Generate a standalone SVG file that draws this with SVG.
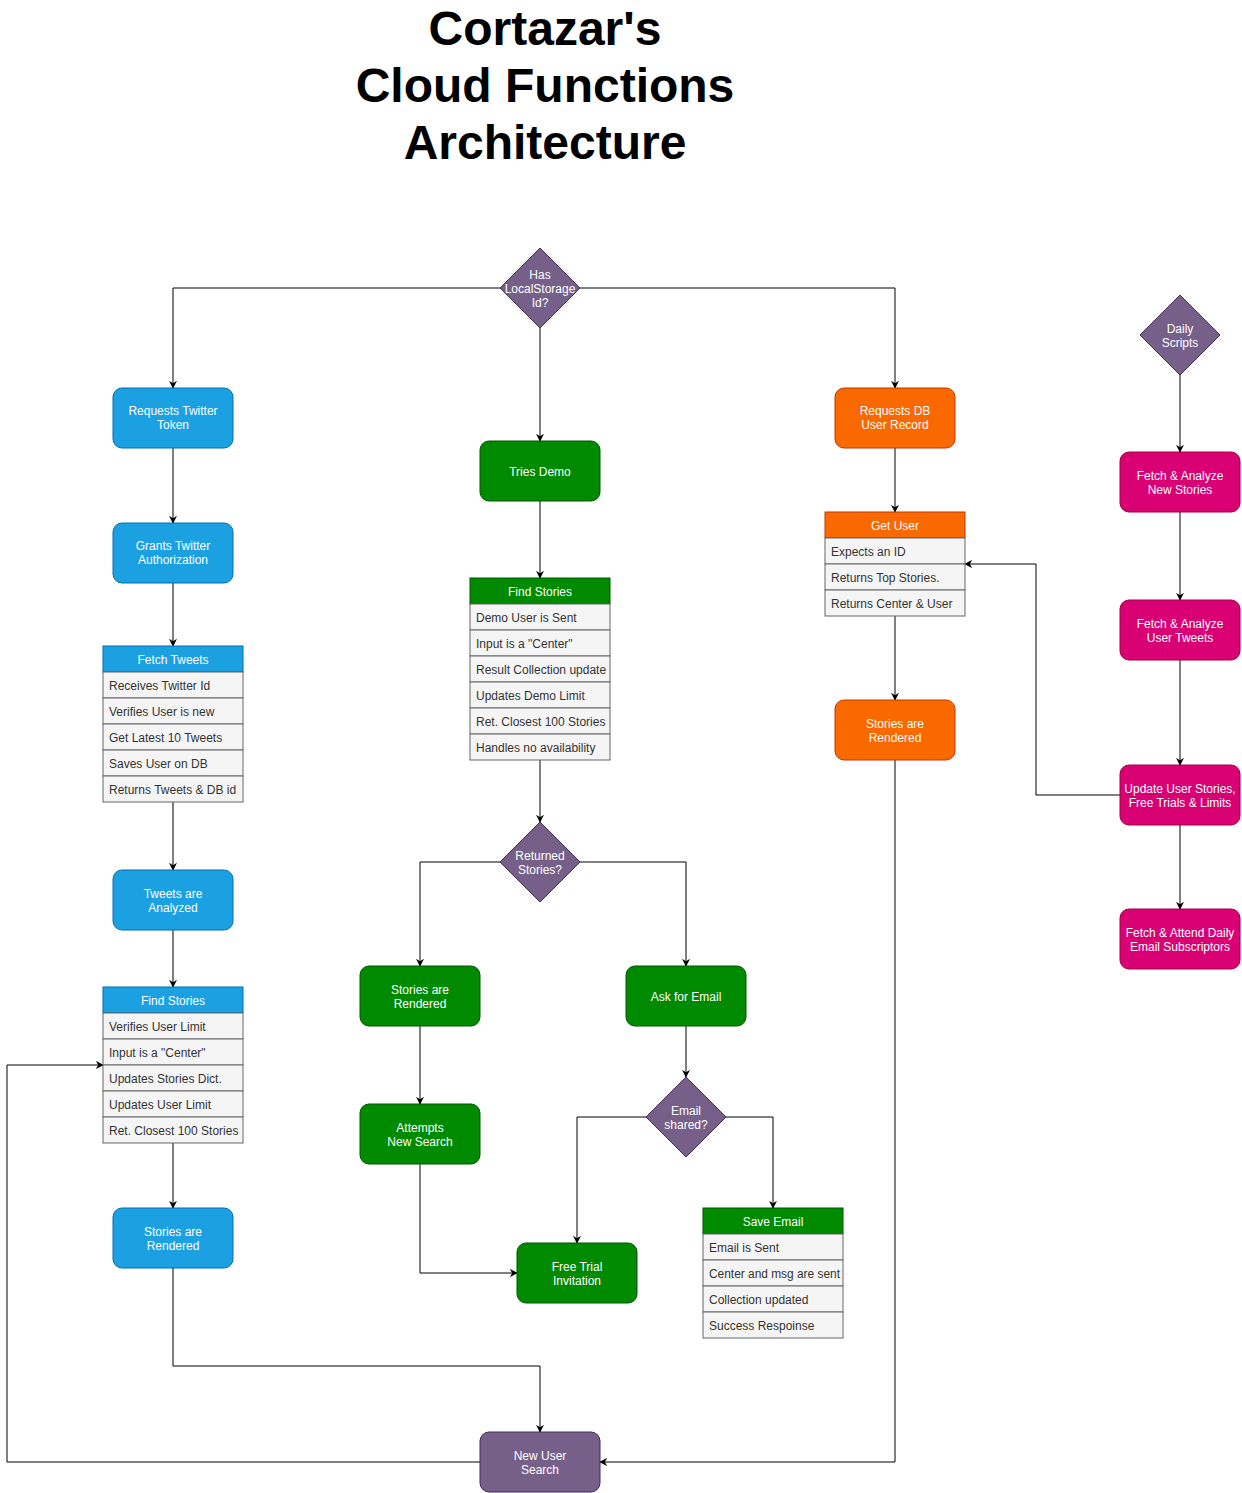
<svg xmlns="http://www.w3.org/2000/svg" width="1242" height="1493" viewBox="0 0 1242 1493">
<defs>
<marker id="arr" viewBox="0 0 10 10" refX="9" refY="5" markerWidth="8" markerHeight="8" markerUnits="userSpaceOnUse" orient="auto">
<path d="M0,0 L10,5 L0,10 L3,5 Z" fill="#000"/>
</marker>
<style>
text{font-family:"Liberation Sans",Arial,sans-serif;font-size:12px}
.t{fill:#fff;text-anchor:middle}
.r{fill:#333}
.title{font-size:48px;font-weight:bold;fill:#000;text-anchor:middle}
.blue{fill:#1ba1e2;stroke:#006eaf}
.green{fill:#008a00;stroke:#005700}
.orange{fill:#fa6800;stroke:#c73500}
.mag{fill:#d80073;stroke:#a50040}
.pur{fill:#76608a;stroke:#432d57}
.row{fill:#f5f5f5;stroke:#666}
.c{fill:none;stroke:#000;stroke-width:1;marker-end:url(#arr)}
.cn{fill:none;stroke:#000;stroke-width:1}
</style>
</defs>
<rect width="1242" height="1493" fill="#fff"/>
<g id="title">
<text class="title" x="545" y="45">Cortazar's</text>
<text class="title" x="545" y="102">Cloud Functions</text>
<text class="title" x="545" y="159">Architecture</text>
</g>
<g id="connectors">
<path class="c" d="M500,288 H173 V388"/>
<path class="c" d="M580,288 H895 V388"/>
<path class="c" d="M540,328 V441"/>
<path class="c" d="M173,448 V523"/>
<path class="c" d="M173,583 V646"/>
<path class="c" d="M173,802 V870"/>
<path class="c" d="M173,930 V987"/>
<path class="c" d="M173,1143 V1208"/>
<path class="c" d="M173,1268 V1366 H540 V1432"/>
<path class="c" d="M480,1462 H7 V1065 H103"/>
<path class="c" d="M540,501 V578"/>
<path class="c" d="M540,760 V822"/>
<path class="c" d="M500,862 H420 V966"/>
<path class="c" d="M580,862 H686 V966"/>
<path class="c" d="M420,1026 V1104"/>
<path class="c" d="M420,1164 V1273 H517"/>
<path class="c" d="M686,1026 V1077"/>
<path class="c" d="M646,1117 H577 V1243"/>
<path class="c" d="M726,1117 H773 V1208"/>
<path class="c" d="M895,448 V512"/>
<path class="c" d="M895,616 V700"/>
<path class="c" d="M895,760 V1462 H600"/>
<path class="c" d="M1180,375 V452"/>
<path class="c" d="M1180,512 V600"/>
<path class="c" d="M1180,660 V765"/>
<path class="c" d="M1180,825 V909"/>
<path class="c" d="M1120,795 H1036 V564 H965"/>
</g>
<g id="has-localstorage">
<polygon class="pur" points="540,248 580,288 540,328 500,288"/>
<text class="t" x="540" y="279">Has</text>
<text class="t" x="540" y="293">LocalStorage</text>
<text class="t" x="540" y="307">Id?</text>
</g>
<g id="requests-twitter-token">
<rect class="blue" x="113" y="388" width="120" height="60" rx="9"/>
<text class="t" x="173" y="415">Requests Twitter</text>
<text class="t" x="173" y="429">Token</text>
</g>
<g id="grants-twitter">
<rect class="blue" x="113" y="523" width="120" height="60" rx="9"/>
<text class="t" x="173" y="550">Grants Twitter</text>
<text class="t" x="173" y="564">Authorization</text>
</g>
<g id="fetch-tweets">
<rect class="blue" x="103" y="646" width="140" height="26"/>
<text class="t" x="173" y="664">Fetch Tweets</text>
<rect class="row" x="103" y="672" width="140" height="26"/>
<text class="r" x="109" y="690">Receives Twitter Id</text>
<rect class="row" x="103" y="698" width="140" height="26"/>
<text class="r" x="109" y="716">Verifies User is new</text>
<rect class="row" x="103" y="724" width="140" height="26"/>
<text class="r" x="109" y="742">Get Latest 10 Tweets</text>
<rect class="row" x="103" y="750" width="140" height="26"/>
<text class="r" x="109" y="768">Saves User on DB</text>
<rect class="row" x="103" y="776" width="140" height="26"/>
<text class="r" x="109" y="794">Returns Tweets &amp; DB id</text>
</g>
<g id="tweets-analyzed">
<rect class="blue" x="113" y="870" width="120" height="60" rx="9"/>
<text class="t" x="173" y="898">Tweets are</text>
<text class="t" x="173" y="912">Analyzed</text>
</g>
<g id="find-stories-blue">
<rect class="blue" x="103" y="987" width="140" height="26"/>
<text class="t" x="173" y="1005">Find Stories</text>
<rect class="row" x="103" y="1013" width="140" height="26"/>
<text class="r" x="109" y="1031">Verifies User Limit</text>
<rect class="row" x="103" y="1039" width="140" height="26"/>
<text class="r" x="109" y="1057">Input is a "Center"</text>
<rect class="row" x="103" y="1065" width="140" height="26"/>
<text class="r" x="109" y="1083">Updates Stories Dict.</text>
<rect class="row" x="103" y="1091" width="140" height="26"/>
<text class="r" x="109" y="1109">Updates User Limit</text>
<rect class="row" x="103" y="1117" width="140" height="26"/>
<text class="r" x="109" y="1135">Ret. Closest 100 Stories</text>
</g>
<g id="stories-rendered-blue">
<rect class="blue" x="113" y="1208" width="120" height="60" rx="9"/>
<text class="t" x="173" y="1236">Stories are</text>
<text class="t" x="173" y="1250">Rendered</text>
</g>
<g id="new-user-search">
<rect class="pur" x="480" y="1432" width="120" height="60" rx="9"/>
<text class="t" x="540" y="1460">New User</text>
<text class="t" x="540" y="1474">Search</text>
</g>
<g id="tries-demo">
<rect class="green" x="480" y="441" width="120" height="60" rx="9"/>
<text class="t" x="540" y="476">Tries Demo</text>
</g>
<g id="find-stories-green">
<rect class="green" x="470" y="578" width="140" height="26"/>
<text class="t" x="540" y="596">Find Stories</text>
<rect class="row" x="470" y="604" width="140" height="26"/>
<text class="r" x="476" y="622">Demo User is Sent</text>
<rect class="row" x="470" y="630" width="140" height="26"/>
<text class="r" x="476" y="648">Input is a "Center"</text>
<rect class="row" x="470" y="656" width="140" height="26"/>
<text class="r" x="476" y="674">Result Collection update</text>
<rect class="row" x="470" y="682" width="140" height="26"/>
<text class="r" x="476" y="700">Updates Demo Limit</text>
<rect class="row" x="470" y="708" width="140" height="26"/>
<text class="r" x="476" y="726">Ret. Closest 100 Stories</text>
<rect class="row" x="470" y="734" width="140" height="26"/>
<text class="r" x="476" y="752">Handles no availability</text>
</g>
<g id="returned-stories">
<polygon class="pur" points="540,822 580,862 540,902 500,862"/>
<text class="t" x="540" y="860">Returned</text>
<text class="t" x="540" y="874">Stories?</text>
</g>
<g id="stories-rendered-green">
<rect class="green" x="360" y="966" width="120" height="60" rx="9"/>
<text class="t" x="420" y="994">Stories are</text>
<text class="t" x="420" y="1008">Rendered</text>
</g>
<g id="attempts-new-search">
<rect class="green" x="360" y="1104" width="120" height="60" rx="9"/>
<text class="t" x="420" y="1132">Attempts</text>
<text class="t" x="420" y="1146">New Search</text>
</g>
<g id="free-trial">
<rect class="green" x="517" y="1243" width="120" height="60" rx="9"/>
<text class="t" x="577" y="1271">Free Trial</text>
<text class="t" x="577" y="1285">Invitation</text>
</g>
<g id="ask-email">
<rect class="green" x="626" y="966" width="120" height="60" rx="9"/>
<text class="t" x="686" y="1001">Ask for Email</text>
</g>
<g id="email-shared">
<polygon class="pur" points="686,1077 726,1117 686,1157 646,1117"/>
<text class="t" x="686" y="1115">Email</text>
<text class="t" x="686" y="1129">shared?</text>
</g>
<g id="save-email">
<rect class="green" x="703" y="1208" width="140" height="26"/>
<text class="t" x="773" y="1226">Save Email</text>
<rect class="row" x="703" y="1234" width="140" height="26"/>
<text class="r" x="709" y="1252">Email is Sent</text>
<rect class="row" x="703" y="1260" width="140" height="26"/>
<text class="r" x="709" y="1278" textLength="131" lengthAdjust="spacingAndGlyphs">Center and msg are sent</text>
<rect class="row" x="703" y="1286" width="140" height="26"/>
<text class="r" x="709" y="1304">Collection updated</text>
<rect class="row" x="703" y="1312" width="140" height="26"/>
<text class="r" x="709" y="1330">Success Respoinse</text>
</g>
<g id="requests-db">
<rect class="orange" x="835" y="388" width="120" height="60" rx="9"/>
<text class="t" x="895" y="415">Requests DB</text>
<text class="t" x="895" y="429">User Record</text>
</g>
<g id="get-user">
<rect class="orange" x="825" y="512" width="140" height="26"/>
<text class="t" x="895" y="530">Get User</text>
<rect class="row" x="825" y="538" width="140" height="26"/>
<text class="r" x="831" y="556">Expects an ID</text>
<rect class="row" x="825" y="564" width="140" height="26"/>
<text class="r" x="831" y="582">Returns Top Stories.</text>
<rect class="row" x="825" y="590" width="140" height="26"/>
<text class="r" x="831" y="608">Returns Center &amp; User</text>
</g>
<g id="stories-rendered-orange">
<rect class="orange" x="835" y="700" width="120" height="60" rx="9"/>
<text class="t" x="895" y="728">Stories are</text>
<text class="t" x="895" y="742">Rendered</text>
</g>
<g id="daily-scripts">
<polygon class="pur" points="1180,295 1220,335 1180,375 1140,335"/>
<text class="t" x="1180" y="333">Daily</text>
<text class="t" x="1180" y="347">Scripts</text>
</g>
<g id="fetch-new-stories">
<rect class="mag" x="1120" y="452" width="120" height="60" rx="9"/>
<text class="t" x="1180" y="480">Fetch &amp; Analyze</text>
<text class="t" x="1180" y="494">New Stories</text>
</g>
<g id="fetch-user-tweets">
<rect class="mag" x="1120" y="600" width="120" height="60" rx="9"/>
<text class="t" x="1180" y="628">Fetch &amp; Analyze</text>
<text class="t" x="1180" y="642">User Tweets</text>
</g>
<g id="update-user-stories">
<rect class="mag" x="1120" y="765" width="120" height="60" rx="9"/>
<text class="t" x="1180" y="793">Update User Stories,</text>
<text class="t" x="1180" y="807">Free Trials &amp; Limits</text>
</g>
<g id="fetch-email">
<rect class="mag" x="1120" y="909" width="120" height="60" rx="9"/>
<text class="t" x="1180" y="937">Fetch &amp; Attend Daily</text>
<text class="t" x="1180" y="951">Email Subscriptors</text>
</g>
</svg>
